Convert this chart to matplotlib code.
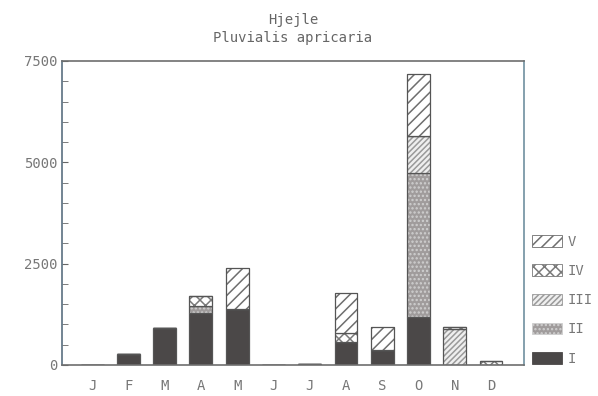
import matplotlib
matplotlib.use("Agg")
import matplotlib.pyplot as plt
import numpy as np

months = ["J", "F", "M", "A", "M", "J", "J", "A", "S", "O", "N", "D"]
age_classes = ["I", "II", "III", "IV", "V"]

# counts per month for each class
class_I   = [0, 260, 920, 1280, 1380, 0, 25, 560, 380, 1180, 0, 0]
class_II  = [0, 0, 0, 180, 0, 0, 0, 0, 0, 3560, 0, 0]
class_III = [0, 0, 0, 0, 0, 0, 0, 0, 0, 910, 880, 0]
class_IV  = [0, 0, 0, 250, 0, 0, 0, 240, 0, 0, 60, 90]
class_V   = [0, 0, 0, 0, 1020, 0, 0, 980, 560, 1530, 0, 0]

yticks = [0, 2500, 5000, 7500]

plt.rcParams["hatch.linewidth"] = 1.1
plt.rcParams["font.family"] = ["DejaVu Sans Mono"]

fig = plt.figure(figsize=(5.98, 3.96), dpi=100)
ax = fig.add_axes([62 / 598, 31 / 396, 462 / 598, 304 / 396])

styles = [
    dict(facecolor="#4b4848", edgecolor="#4b4848", hatch=None),
    dict(facecolor="#a09c9c", edgecolor="#d0d0d0", hatch="...."),
    dict(facecolor="#efefef", edgecolor="#9a9a9a", hatch="//////"),
    dict(facecolor="#ffffff", edgecolor="#7a7a7a", hatch="xxx"),
    dict(facecolor="#ffffff", edgecolor="#6e6e6e", hatch="///"),
]

series = [class_I, class_II, class_III, class_IV, class_V]
x = np.arange(len(months))
bottom = np.zeros(len(months))
handles = []
for name, vals, st in zip(age_classes, series, styles):
    vals = np.array(vals, dtype=float)
    bars = ax.bar(x, vals, width=0.63, bottom=bottom, facecolor=st["facecolor"],
                  edgecolor=st["edgecolor"], hatch=st["hatch"], linewidth=0.6)
    # outline in dark gray
    ax.bar(x, vals, width=0.63, bottom=bottom, facecolor="none",
           edgecolor="#555555", linewidth=0.9)
    handles.append(bars)
    bottom += vals

ax.set_xlim(-0.83, 11.91)
ax.set_ylim(0, 7500)
ax.set_xticks(x)
ax.set_xticklabels(months)
ax.set_yticks(yticks)
ax.set_yticklabels([str(v) for v in yticks])
ax.set_yticks(np.arange(0, 7501, 500), minor=True)
ax.tick_params(axis="y", which="both", direction="in", length=4, color="#666666",
               labelcolor="#777777", labelsize=10)
ax.tick_params(axis="x", length=0, labelcolor="#777777", labelsize=10, pad=10)

for side in ["left", "right", "top", "bottom"]:
    ax.spines[side].set_color("#6e6e6e")
    ax.spines[side].set_linewidth(1.2)
ax.spines["left"].set_color("#5a7080")
ax.spines["right"].set_color("#7090a0")

fig.text(293 / 598, 1 - 20 / 396, "Hjejle", ha="center", va="center",
         color="#666666", fontsize=10)
fig.text(293 / 598, 1 - 38 / 396, "Pluvialis apricaria", ha="center", va="center",
         color="#666666", fontsize=10)

leg = fig.legend(handles[::-1], age_classes[::-1], loc="upper left",
                 bbox_to_anchor=(526 / 598, 1 - 229 / 396), frameon=False,
                 handlelength=2.2, handleheight=0.9, labelspacing=1.1,
                 handletextpad=0.4, borderaxespad=0, fontsize=10)
for t in leg.get_texts():
    t.set_color("#777777")

fig.savefig("out.png", dpi=100)
